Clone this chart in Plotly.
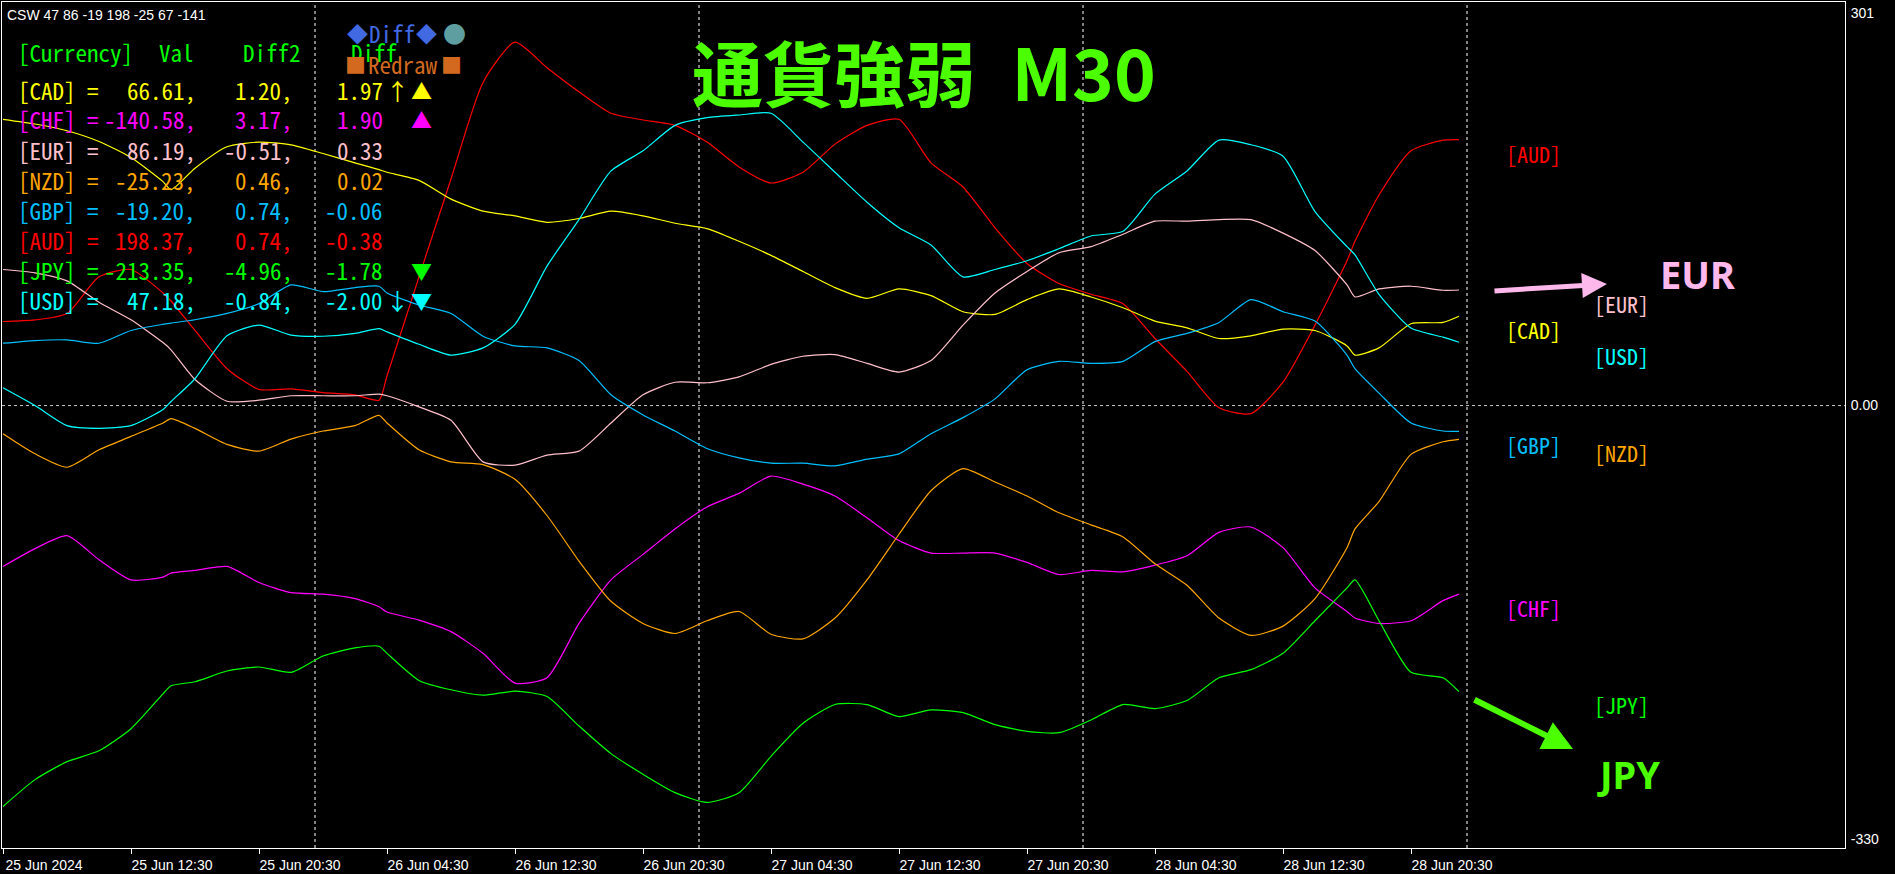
import plotly.graph_objects as go

# ---------------- data ----------------
times = [
    "2024-06-25 04:30", "2024-06-25 06:30", "2024-06-25 08:30", "2024-06-25 10:30",
    "2024-06-25 12:30", "2024-06-25 14:30", "2024-06-25 15:00", "2024-06-25 16:30",
    "2024-06-25 18:30", "2024-06-25 20:30", "2024-06-25 22:30", "2024-06-26 00:30",
    "2024-06-26 02:30", "2024-06-26 04:00", "2024-06-26 04:30", "2024-06-26 06:30",
    "2024-06-26 08:30", "2024-06-26 10:30", "2024-06-26 12:30", "2024-06-26 14:30",
    "2024-06-26 16:30", "2024-06-26 18:30", "2024-06-26 20:30", "2024-06-26 22:30",
    "2024-06-27 00:30", "2024-06-27 02:30", "2024-06-27 04:30", "2024-06-27 06:30",
    "2024-06-27 08:30", "2024-06-27 10:30", "2024-06-27 12:30", "2024-06-27 14:30",
    "2024-06-27 16:30", "2024-06-27 18:30", "2024-06-27 20:30", "2024-06-27 22:30",
    "2024-06-28 00:30", "2024-06-28 02:30", "2024-06-28 04:30", "2024-06-28 06:30",
    "2024-06-28 08:30", "2024-06-28 10:30", "2024-06-28 12:30", "2024-06-28 14:30",
    "2024-06-28 16:30", "2024-06-28 17:00", "2024-06-28 18:30", "2024-06-28 20:30",
    "2024-06-28 22:30", "2024-06-28 23:30",
]

AUD = [62.7, 63.9, 68.7, 96, 101.5, 84, 78, 56, 27.5, 12, 12.5, 9.7, 8, 4, 22, 96, 169,
       241, 271, 252, 234, 218, 213, 209, 196.5, 178, 166, 174, 195, 209, 213.5, 181,
       163, 132.6, 106, 91, 83, 76, 50, 25.5, -1.6, -6, 17.4, 60, 108, 122.5, 157, 190,
       198, 198.4]
CAD = [213.5, 210, 205, 197, 185, 167, 161, 177, 193, 196.5, 194.5, 188, 181, 176, 174,
       168, 154, 145, 141.5, 136.7, 139.5, 145, 141.5, 136, 132, 122.5, 112, 100, 88, 80,
       87, 82, 70, 68, 79, 87, 81, 73, 63, 58, 50, 52, 57, 56, 44.5, 37.6, 43, 61, 62,
       66.6]
CHF = [-120, -106.7, -97, -115, -130, -128, -125, -123, -120, -132, -139.5, -140.7, -144,
       -150, -154, -160, -168.6, -184.8, -207, -203, -162.5, -130, -111, -92, -75.6,
       -65.5, -52.6, -58.6, -67.5, -83.7, -100.7, -110, -110, -110, -117, -126, -123,
       -124, -119, -112, -94.6, -90.6, -106, -136, -153.6, -158.5, -162.5, -160.5,
       -145.5, -140.6]
EUR = [101.5, 99, 93, 77, 64, 47, 41.6, 19.4, 3.2, 4, 7.3, 7.3, 7.3, 8.5, 7.3, -1, -11,
       -42, -44.5, -37, -34, -13, 8, 17.4, 17, 21.4, 30.7, 36.8, 38, 31.5, 25, 33.6, 60,
       84, 100, 114, 118.5, 127.8, 137.5, 137.5, 138.7, 138.7, 128.6, 115.6, 90, 81, 87,
       89, 86, 86.2]
GBP = [46.5, 48.5, 49, 46.5, 56, 60.6, 61.5, 64, 68.7, 76, 90, 85, 88, 89, 84, 75, 68.7,
       51.7, 44.5, 43, 33.6, 8, -7, -19, -32, -39, -43, -43, -45, -40, -36, -21, -9, 5,
       26.7, 33, 31.5, 33, 47.7, 53.8, 62, 79, 70, 63, 37.6, 27.5, 9.3, -13, -19, -19.2]
JPY = [-299, -279, -265.6, -257.5, -241, -215, -209, -206, -198, -195, -199, -186.8,
       -180.7, -179.5, -184.8, -205, -212, -216, -213, -217, -239, -259.6, -275, -288.7,
       -296, -288.7, -261.6, -237, -223, -223, -232, -227, -229, -238, -243, -244,
       -234.5, -223, -226, -220, -203, -197, -184.8, -160.5, -136, -130, -160.5, -199,
       -203, -213.4]
NZD = [-21, -36, -46, -33, -23, -13, -9.7, -17, -29, -34, -25, -19, -15, -7.3, -13, -33,
       -42, -44, -55, -82, -116, -146, -162.5, -170, -160.5, -153.6, -170.6, -174,
       -158.5, -130, -96, -63.5, -47, -57, -67.5, -80, -89, -98, -118, -134, -158.5,
       -171.4, -164.5, -144, -106, -92, -71.6, -36.4, -27, -25.2]
USD = [13.3, 0, -15, -17, -15, -3, 3, 20, 52, 60, 52.6, 51.7, 53.8, 57.4, 55, 45.7, 37.6,
       43, 60.6, 104, 138.7, 175, 190, 209, 214.7, 216.7, 218, 196.5, 174, 151.6, 132.6,
       119.7, 96, 101.5, 108, 117, 126.5, 130, 157.7, 175, 198, 194.5, 186, 144.7, 118.5,
       112.4, 83, 57.8, 51, 47.2]

currencies = ["AUD", "CAD", "CHF", "EUR", "GBP", "JPY", "NZD", "USD"]
series = {"AUD": AUD, "CAD": CAD, "CHF": CHF, "EUR": EUR,
          "GBP": GBP, "JPY": JPY, "NZD": NZD, "USD": USD}

tick_times = ["2024-06-25 04:30", "2024-06-25 12:30", "2024-06-25 20:30",
              "2024-06-26 04:30", "2024-06-26 12:30", "2024-06-26 20:30",
              "2024-06-27 04:30", "2024-06-27 12:30", "2024-06-27 20:30",
              "2024-06-28 04:30", "2024-06-28 12:30", "2024-06-28 20:30"]
tick_labels = ["25 Jun 2024", "25 Jun 12:30", "25 Jun 20:30", "26 Jun 04:30",
               "26 Jun 12:30", "26 Jun 20:30", "27 Jun 04:30", "27 Jun 12:30",
               "27 Jun 20:30", "28 Jun 04:30", "28 Jun 12:30", "28 Jun 20:30"]
day_lines = ["2024-06-26 00:00", "2024-06-27 00:00", "2024-06-28 00:00", "2024-06-29 00:00"]

y_max, y_min = 301, -330

table_rows = ["CAD", "CHF", "EUR", "NZD", "GBP", "AUD", "JPY", "USD"]
table_val = [66.61, -140.58, 86.19, -25.23, -19.20, 198.37, -213.35, 47.18]
table_diff2 = [1.20, 3.17, -0.51, 0.46, 0.74, 0.74, -4.96, -0.84]
table_diff = [1.97, 1.90, 0.33, 0.02, -0.06, -0.38, -1.78, -2.00]
table_arrow = ["↑", "", "", "", "", "", "", "↓"]
table_tri = ["▲", "▲", "", "", "", "", "▼", "▼"]

csw_text = "CSW 47 86 -19 198 -25 67 -141"
title_text = "通貨強弱\u2002M30"

# ---------------- style ----------------
W, H = 1895, 874
PL, PR, PT, PB = 2, 1845, 2, 848
colors = {"AUD": "#ff0000", "CAD": "#ffff00", "CHF": "#ff00ff", "EUR": "#ffc0cb",
          "GBP": "#00bfff", "JPY": "#00ff00", "NZD": "#ffa500", "USD": "#00ffff"}
MONO = "Noto Sans Mono CJK JP, DejaVu Sans Mono, monospace"
AXF = "Liberation Sans, Arial, sans-serif"
GREEN_BIG = "#4cff00"
PINK_BIG = "#ffb8ec"


def px(x):
    return (x - PL) / (PR - PL)


def py(y):
    return (PB - y) / (PB - PT)


fig = go.Figure()
for c in currencies:
    fig.add_trace(go.Scatter(
        x=times, y=series[c], mode="lines", name=c,
        line=dict(color=colors[c], width=1.2, shape="spline", smoothing=0.6),
        hoverinfo="skip", showlegend=False))

shapes = []
for d in day_lines:
    shapes.append(dict(type="line", xref="x", yref="paper", x0=d, x1=d, y0=0, y1=1,
                       line=dict(color="#ffffff", width=1, dash="3px,3px"), layer="below"))
shapes.append(dict(type="line", xref="paper", yref="y", x0=0, x1=1, y0=0, y1=0,
                   line=dict(color="#c8c8c8", width=1, dash="3px,3px"), layer="below"))

ann = []


def text(x, y, s, color, size, family=MONO, xanchor="left", bold=False):
    ann.append(dict(xref="paper", yref="paper", x=px(x), y=py(y),
                    text=(f"<b>{s}</b>" if bold else s),
                    showarrow=False, xanchor=xanchor, yanchor="middle",
                    font=dict(family=family, size=size, color=color)))


text(5, 15, csw_text, "#ffffff", 14, family=AXF)

# table header
HDR = "#00ff00"
FS = 23
text(16, 52, "[Currency]", HDR, FS)
text(157, 52, "Val", HDR, FS)
text(241, 52, "Diff2", HDR, FS)
text(349, 52, "Diff", HDR, FS)
# Diff / Redraw buttons
text(357, 33, "◆", "#4169e1", 21, xanchor="center")
text(367, 33, "Diff", "#4169e1", FS)
text(426, 33, "◆", "#4169e1", 21, xanchor="center")
text(454, 33, "●", "#5f9ea0", 23, xanchor="center")
text(355, 64, "■", "#d2691e", 21, xanchor="center")
text(366, 64, "Redraw", "#d2691e", FS)
text(451, 64, "■", "#d2691e", 21, xanchor="center")

for i, c in enumerate(table_rows):
    yy = 89.5 + 30 * i
    col = colors[c]
    text(16, yy, f"[{c}] =", col, FS)
    text(198, yy, f"{table_val[i]:.2f},", col, FS, xanchor="right")
    text(295, yy, f"{table_diff2[i]:.2f},", col, FS, xanchor="right")
    text(385, yy, f"{table_diff[i]:.2f}", col, FS, xanchor="right")
    if table_arrow[i]:
        text(397, yy, table_arrow[i], col, FS, xanchor="center")
    if table_tri[i]:
        text(421, yy, table_tri[i], col, 21, xanchor="center")

# big title
text(924, 70, title_text, GREEN_BIG, 71, family="Noto Sans CJK JP", xanchor="center", bold=True)

# right side labels
label_pos = {"AUD": (1504, 153), "EUR": (1592, 303), "CAD": (1504, 329), "USD": (1592, 355),
             "GBP": (1504, 444), "NZD": (1592, 452), "CHF": (1504, 607), "JPY": (1592, 704)}
for c in currencies:
    x, y = label_pos[c]
    text(x, y, f"[{c}]", colors[c], 22)

# big EUR / JPY marks with arrows
text(1697, 274, "EUR", PINK_BIG, 38, family="Noto Sans", xanchor="center", bold=True)
text(1628, 774, "JPY", GREEN_BIG, 38, family="Noto Sans", xanchor="center", bold=True)
ann.append(dict(xref="paper", yref="paper", x=px(1607), y=py(284), ax=-114, ay=7,
                axref="pixel", ayref="pixel", showarrow=True, text="",
                arrowhead=2, arrowsize=1.0, arrowwidth=5, arrowcolor=PINK_BIG))
ann.append(dict(xref="paper", yref="paper", x=px(1573), y=py(749), ax=-100, ay=-50,
                axref="pixel", ayref="pixel", showarrow=True, text="",
                arrowhead=2, arrowsize=1.0, arrowwidth=6, arrowcolor=GREEN_BIG))

# y-axis labels nudged inside the plot edges like the terminal does
upp = (y_max - y_min) / (PB - PT)
ytickvals = [y_max - 11 * upp, 0, y_min + 9 * upp]
yticktext = [str(y_max), "0.00", str(y_min)]

fig.update_layout(
    width=W, height=H,
    margin=dict(l=PL, r=W - PR, t=PT, b=H - PB, pad=0, autoexpand=False),
    paper_bgcolor="#000000", plot_bgcolor="#000000",
    showlegend=False,
    shapes=shapes, annotations=ann,
    xaxis=dict(type="date", range=["2024-06-25 04:26:15", "2024-06-29 23:37:30"],
               automargin=False,
               tickvals=tick_times, ticktext=tick_labels, ticks="outside", ticklen=5,
               tickcolor="#ffffff", tickwidth=1, ticklabelshift=41, ticklabelstandoff=-1,
               tickfont=dict(family=AXF, size=14, color="#ffffff"),
               showgrid=False, zeroline=False, showline=True, linecolor="#ffffff",
               linewidth=1, mirror=True, fixedrange=True),
    yaxis=dict(range=[y_min, y_max], side="right", tickvals=ytickvals, ticktext=yticktext,
               automargin=False,
               ticks="", tickfont=dict(family=AXF, size=14, color="#ffffff"),
               ticklabelstandoff=2,
               showgrid=False, zeroline=False, showline=True, linecolor="#ffffff",
               linewidth=1, mirror=True, fixedrange=True),
)

fig.write_html(
    "out.html",
    config={"displayModeBar": False},
    post_script="document.body.style.margin='0';document.body.style.overflow='hidden';"
                "document.body.style.background='#000';",
)
